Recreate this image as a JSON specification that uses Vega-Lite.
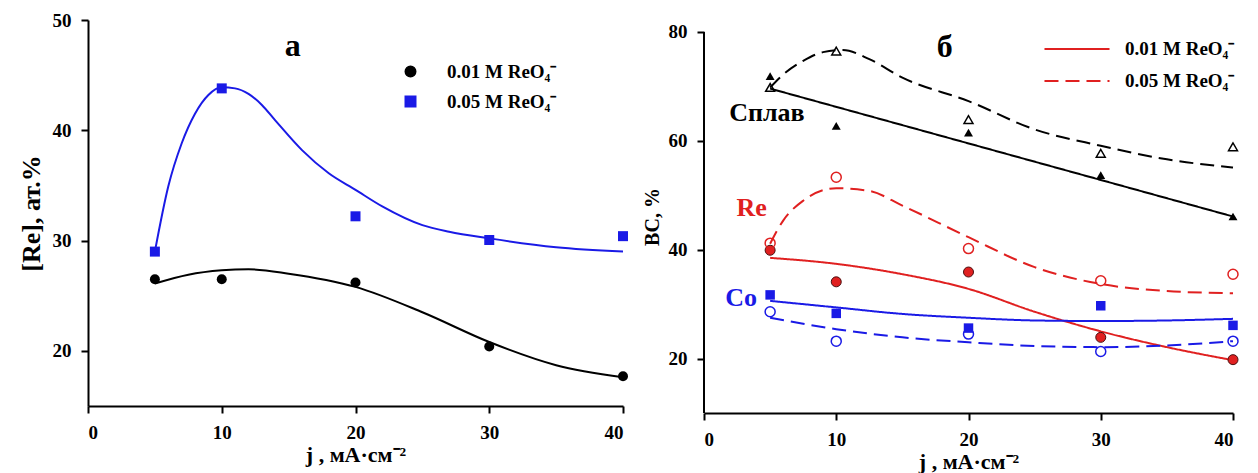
{
  "$schema": "https://vega.github.io/schema/vega-lite/v6.json",
  "background": "white",
  "padding": {"left": 18, "top": 11, "right": 5, "bottom": 5},
  "datasets": {
    "leftPts": [
      {"j": 5, "v": 26.5, "s": "0.01 M ReO₄⁻"},
      {"j": 10, "v": 26.5, "s": "0.01 M ReO₄⁻"},
      {"j": 20, "v": 26.2, "s": "0.01 M ReO₄⁻"},
      {"j": 30, "v": 20.4, "s": "0.01 M ReO₄⁻"},
      {"j": 40, "v": 17.7, "s": "0.01 M ReO₄⁻"},
      {"j": 5, "v": 29.0, "s": "0.05 M ReO₄⁻"},
      {"j": 10, "v": 43.8, "s": "0.05 M ReO₄⁻"},
      {"j": 20, "v": 32.2, "s": "0.05 M ReO₄⁻"},
      {"j": 30, "v": 30.05, "s": "0.05 M ReO₄⁻"},
      {"j": 40, "v": 30.4, "s": "0.05 M ReO₄⁻"}
    ],
    "leftFit": [
      {"j": 5, "v": 26.1, "s": "0.01 M ReO₄⁻"},
      {"j": 7.5, "v": 26.9, "s": "0.01 M ReO₄⁻"},
      {"j": 10, "v": 27.3, "s": "0.01 M ReO₄⁻"},
      {"j": 12, "v": 27.4, "s": "0.01 M ReO₄⁻"},
      {"j": 15, "v": 27.0, "s": "0.01 M ReO₄⁻"},
      {"j": 20, "v": 25.8, "s": "0.01 M ReO₄⁻"},
      {"j": 25, "v": 23.5, "s": "0.01 M ReO₄⁻"},
      {"j": 30, "v": 20.8, "s": "0.01 M ReO₄⁻"},
      {"j": 35, "v": 18.7, "s": "0.01 M ReO₄⁻"},
      {"j": 40, "v": 17.6, "s": "0.01 M ReO₄⁻"},
      {"j": 5, "v": 29.0, "s": "0.05 M ReO₄⁻"},
      {"j": 6, "v": 34.9, "s": "0.05 M ReO₄⁻"},
      {"j": 7, "v": 38.8, "s": "0.05 M ReO₄⁻"},
      {"j": 8, "v": 41.5, "s": "0.05 M ReO₄⁻"},
      {"j": 9, "v": 43.2, "s": "0.05 M ReO₄⁻"},
      {"j": 10, "v": 43.9, "s": "0.05 M ReO₄⁻"},
      {"j": 11, "v": 43.8, "s": "0.05 M ReO₄⁻"},
      {"j": 12, "v": 43.3, "s": "0.05 M ReO₄⁻"},
      {"j": 13, "v": 42.3, "s": "0.05 M ReO₄⁻"},
      {"j": 14, "v": 40.9, "s": "0.05 M ReO₄⁻"},
      {"j": 16, "v": 38.2, "s": "0.05 M ReO₄⁻"},
      {"j": 18, "v": 36.1, "s": "0.05 M ReO₄⁻"},
      {"j": 20, "v": 34.6, "s": "0.05 M ReO₄⁻"},
      {"j": 22, "v": 33.1, "s": "0.05 M ReO₄⁻"},
      {"j": 25, "v": 31.4, "s": "0.05 M ReO₄⁻"},
      {"j": 27, "v": 30.8, "s": "0.05 M ReO₄⁻"},
      {"j": 30, "v": 30.2, "s": "0.05 M ReO₄⁻"},
      {"j": 35, "v": 29.4, "s": "0.05 M ReO₄⁻"},
      {"j": 40, "v": 29.0, "s": "0.05 M ReO₄⁻"}
    ],
    "rightPts": [
      {"j": 5, "v": 71.9, "el": "Сплав", "c": "0.01 M ReO₄⁻"},
      {"j": 10, "v": 62.75, "el": "Сплав", "c": "0.01 M ReO₄⁻"},
      {"j": 20, "v": 61.5, "el": "Сплав", "c": "0.01 M ReO₄⁻"},
      {"j": 30, "v": 53.7, "el": "Сплав", "c": "0.01 M ReO₄⁻"},
      {"j": 40, "v": 46.1, "el": "Сплав", "c": "0.01 M ReO₄⁻"},
      {"j": 5, "v": 69.8, "el": "Сплав", "c": "0.05 M ReO₄⁻"},
      {"j": 10, "v": 76.5, "el": "Сплав", "c": "0.05 M ReO₄⁻"},
      {"j": 20, "v": 63.9, "el": "Сплав", "c": "0.05 M ReO₄⁻"},
      {"j": 30, "v": 57.7, "el": "Сплав", "c": "0.05 M ReO₄⁻"},
      {"j": 40, "v": 58.9, "el": "Сплав", "c": "0.05 M ReO₄⁻"},
      {"j": 5, "v": 39.9, "el": "Re", "c": "0.01 M ReO₄⁻"},
      {"j": 10, "v": 34.1, "el": "Re", "c": "0.01 M ReO₄⁻"},
      {"j": 20, "v": 35.9, "el": "Re", "c": "0.01 M ReO₄⁻"},
      {"j": 30, "v": 23.9, "el": "Re", "c": "0.01 M ReO₄⁻"},
      {"j": 40, "v": 19.8, "el": "Re", "c": "0.01 M ReO₄⁻"},
      {"j": 5, "v": 41.2, "el": "Re", "c": "0.05 M ReO₄⁻"},
      {"j": 10, "v": 53.3, "el": "Re", "c": "0.05 M ReO₄⁻"},
      {"j": 20, "v": 40.2, "el": "Re", "c": "0.05 M ReO₄⁻"},
      {"j": 30, "v": 34.3, "el": "Re", "c": "0.05 M ReO₄⁻"},
      {"j": 40, "v": 35.5, "el": "Re", "c": "0.05 M ReO₄⁻"},
      {"j": 5, "v": 31.7, "el": "Co", "c": "0.01 M ReO₄⁻"},
      {"j": 10, "v": 28.3, "el": "Co", "c": "0.01 M ReO₄⁻"},
      {"j": 20, "v": 25.6, "el": "Co", "c": "0.01 M ReO₄⁻"},
      {"j": 30, "v": 29.7, "el": "Co", "c": "0.01 M ReO₄⁻"},
      {"j": 40, "v": 26.1, "el": "Co", "c": "0.01 M ReO₄⁻"},
      {"j": 5, "v": 28.6, "el": "Co", "c": "0.05 M ReO₄⁻"},
      {"j": 10, "v": 23.2, "el": "Co", "c": "0.05 M ReO₄⁻"},
      {"j": 20, "v": 24.5, "el": "Co", "c": "0.05 M ReO₄⁻"},
      {"j": 30, "v": 21.3, "el": "Co", "c": "0.05 M ReO₄⁻"},
      {"j": 40, "v": 23.2, "el": "Co", "c": "0.05 M ReO₄⁻"}
    ],
    "rightFit": [
      {"j": 5, "v": 69.6, "el": "Сплав", "c": "0.01 M ReO₄⁻"},
      {"j": 40, "v": 46.1, "el": "Сплав", "c": "0.01 M ReO₄⁻"},
      {"j": 5, "v": 69.8, "el": "Сплав", "c": "0.05 M ReO₄⁻"},
      {"j": 6, "v": 72.2, "el": "Сплав", "c": "0.05 M ReO₄⁻"},
      {"j": 7.5, "v": 74.7, "el": "Сплав", "c": "0.05 M ReO₄⁻"},
      {"j": 9, "v": 76.3, "el": "Сплав", "c": "0.05 M ReO₄⁻"},
      {"j": 10.5, "v": 76.7, "el": "Сплав", "c": "0.05 M ReO₄⁻"},
      {"j": 12.5, "v": 75.0, "el": "Сплав", "c": "0.05 M ReO₄⁻"},
      {"j": 15, "v": 71.6, "el": "Сплав", "c": "0.05 M ReO₄⁻"},
      {"j": 20, "v": 67.3, "el": "Сплав", "c": "0.05 M ReO₄⁻"},
      {"j": 25, "v": 62.1, "el": "Сплав", "c": "0.05 M ReO₄⁻"},
      {"j": 30, "v": 59.1, "el": "Сплав", "c": "0.05 M ReO₄⁻"},
      {"j": 35, "v": 56.6, "el": "Сплав", "c": "0.05 M ReO₄⁻"},
      {"j": 40, "v": 55.1, "el": "Сплав", "c": "0.05 M ReO₄⁻"},
      {"j": 5, "v": 38.5, "el": "Re", "c": "0.01 M ReO₄⁻"},
      {"j": 10, "v": 37.4, "el": "Re", "c": "0.01 M ReO₄⁻"},
      {"j": 15, "v": 35.5, "el": "Re", "c": "0.01 M ReO₄⁻"},
      {"j": 20, "v": 32.8, "el": "Re", "c": "0.01 M ReO₄⁻"},
      {"j": 25, "v": 28.6, "el": "Re", "c": "0.01 M ReO₄⁻"},
      {"j": 30, "v": 25.0, "el": "Re", "c": "0.01 M ReO₄⁻"},
      {"j": 35, "v": 22.1, "el": "Re", "c": "0.01 M ReO₄⁻"},
      {"j": 40, "v": 19.7, "el": "Re", "c": "0.01 M ReO₄⁻"},
      {"j": 5, "v": 41.1, "el": "Re", "c": "0.05 M ReO₄⁻"},
      {"j": 6, "v": 45.4, "el": "Re", "c": "0.05 M ReO₄⁻"},
      {"j": 7.5, "v": 49.0, "el": "Re", "c": "0.05 M ReO₄⁻"},
      {"j": 10, "v": 51.3, "el": "Re", "c": "0.05 M ReO₄⁻"},
      {"j": 12.5, "v": 50.8, "el": "Re", "c": "0.05 M ReO₄⁻"},
      {"j": 15, "v": 48.1, "el": "Re", "c": "0.05 M ReO₄⁻"},
      {"j": 20, "v": 42.3, "el": "Re", "c": "0.05 M ReO₄⁻"},
      {"j": 25, "v": 36.8, "el": "Re", "c": "0.05 M ReO₄⁻"},
      {"j": 30, "v": 33.7, "el": "Re", "c": "0.05 M ReO₄⁻"},
      {"j": 35, "v": 32.4, "el": "Re", "c": "0.05 M ReO₄⁻"},
      {"j": 40, "v": 32.0, "el": "Re", "c": "0.05 M ReO₄⁻"},
      {"j": 5, "v": 30.6, "el": "Co", "c": "0.01 M ReO₄⁻"},
      {"j": 10, "v": 29.4, "el": "Co", "c": "0.01 M ReO₄⁻"},
      {"j": 15, "v": 28.2, "el": "Co", "c": "0.01 M ReO₄⁻"},
      {"j": 20, "v": 27.5, "el": "Co", "c": "0.01 M ReO₄⁻"},
      {"j": 25, "v": 27.0, "el": "Co", "c": "0.01 M ReO₄⁻"},
      {"j": 30, "v": 26.9, "el": "Co", "c": "0.01 M ReO₄⁻"},
      {"j": 35, "v": 27.0, "el": "Co", "c": "0.01 M ReO₄⁻"},
      {"j": 40, "v": 27.3, "el": "Co", "c": "0.01 M ReO₄⁻"},
      {"j": 5, "v": 27.5, "el": "Co", "c": "0.05 M ReO₄⁻"},
      {"j": 10, "v": 25.4, "el": "Co", "c": "0.05 M ReO₄⁻"},
      {"j": 15, "v": 23.9, "el": "Co", "c": "0.05 M ReO₄⁻"},
      {"j": 20, "v": 23.0, "el": "Co", "c": "0.05 M ReO₄⁻"},
      {"j": 25, "v": 22.3, "el": "Co", "c": "0.05 M ReO₄⁻"},
      {"j": 30, "v": 22.1, "el": "Co", "c": "0.05 M ReO₄⁻"},
      {"j": 35, "v": 22.4, "el": "Co", "c": "0.05 M ReO₄⁻"},
      {"j": 40, "v": 23.2, "el": "Co", "c": "0.05 M ReO₄⁻"}
    ]
  },
  "bounds": "flush",
  "spacing": 81,
  "resolve": {
    "scale": {"color": "independent", "shape": "independent", "strokeDash": "independent"},
    "legend": {"color": "independent", "shape": "independent", "strokeDash": "independent"}
  },
  "hconcat": [
    {
      "width": 535,
      "height": 386,
      "layer": [
        {
          "data": {"name": "leftFit"},
          "mark": {"type": "line", "interpolate": "monotone", "strokeWidth": 2},
          "encoding": {
            "x": {
              "field": "j", "type": "quantitative",
              "scale": {"domain": [0, 40], "nice": false},
              "axis": {"values": [0, 10, 20, 30, 40], "title": "j , мА·см⁻²", "titleFontSize": 22, "labelPadding": 10, "titlePadding": 2}
            },
            "y": {
              "field": "v", "type": "quantitative",
              "scale": {"domain": [15, 50], "nice": false},
              "axis": {"values": [20, 30, 40, 50], "title": "[Re], ат.%", "titleFontSize": 26, "labelPadding": 10, "titlePadding": 8}
            },
            "color": {
              "field": "s", "type": "nominal",
              "scale": {"domain": ["0.01 M ReO₄⁻", "0.05 M ReO₄⁻"], "range": ["#000000", "#1a1ae6"]}
            }
          }
        },
        {
          "data": {"name": "leftPts"},
          "mark": {"type": "point", "filled": true, "opacity": 1, "size": 100},
          "encoding": {
            "x": {"field": "j", "type": "quantitative"},
            "y": {"field": "v", "type": "quantitative"},
            "color": {
              "field": "s", "type": "nominal",
              "legend": {"orient": "none", "legendX": 313, "legendY": 42, "title": null, "padding": 0, "rowPadding": 10, "labelOffset": 27, "symbolSize": 110, "labelFontSize": 19}
            },
            "shape": {
              "field": "s", "type": "nominal",
              "scale": {"domain": ["0.01 M ReO₄⁻", "0.05 M ReO₄⁻"], "range": ["circle", "square"]},
              "legend": {"orient": "none", "legendX": 313, "legendY": 42, "title": null, "padding": 0, "rowPadding": 10, "labelOffset": 27, "symbolSize": 110, "labelFontSize": 19}
            }
          }
        },
        {
          "data": {"values": [{}]},
          "mark": {"type": "text", "text": "а", "fontSize": 32, "fontWeight": "bold", "font": "Liberation Serif", "color": "#000000"},
          "encoding": {"x": {"datum": 15.3}, "y": {"datum": 47.6}}
        }
      ]
    },
    {
      "width": 529,
      "height": 393,
      "layer": [
        {
          "data": {"values": [{}]},
          "mark": {"type": "rule", "strokeWidth": 2, "color": "#000000"},
          "encoding": {
            "x": {"datum": 0, "type": "quantitative", "scale": {"domain": [0, 40], "nice": false}},
            "y": {"datum": 10, "type": "quantitative", "scale": {"domain": [10, 82.2], "nice": false}},
            "y2": {"datum": 80}
          }
        },
        {
          "data": {"name": "rightFit"},
          "mark": {"type": "line", "interpolate": "monotone", "strokeWidth": 2},
          "encoding": {
            "x": {
              "field": "j", "type": "quantitative",
              "axis": {"values": [0, 10, 20, 30, 40], "title": "j , мА·см⁻²", "titleFontSize": 22, "labelPadding": 10, "titlePadding": 2}
            },
            "y": {
              "field": "v", "type": "quantitative",
              "axis": {"values": [20, 40, 60, 80], "domain": false, "title": "ВС, %", "titleFontSize": 20, "labelPadding": 10, "titlePadding": 6}
            },
            "color": {
              "field": "el", "type": "nominal",
              "scale": {"domain": ["Сплав", "Re", "Co"], "range": ["#000000", "#e02020", "#1a1ae6"]},
              "legend": null
            },
            "strokeDash": {
              "field": "c", "type": "nominal",
              "scale": {"domain": ["0.01 M ReO₄⁻", "0.05 M ReO₄⁻"], "range": [[1, 0], [14, 7]]},
              "legend": {"orient": "none", "legendX": 361, "legendY": 17, "title": null, "padding": 0, "rowPadding": 10, "labelOffset": 36, "symbolType": "M-3,0H3", "symbolSize": 470, "symbolStrokeColor": "#e02020", "symbolFillColor": "transparent", "symbolStrokeWidth": 2, "labelFontSize": 19}
            }
          }
        },
        {
          "data": {"name": "rightPts"},
          "transform": [{"filter": "datum.el === 'Сплав' && datum.c === '0.01 M ReO₄⁻'"}],
          "mark": {"type": "point", "shape": "triangle-up", "filled": true, "opacity": 1, "size": 80, "color": "#000000"},
          "encoding": {"x": {"field": "j", "type": "quantitative"}, "y": {"field": "v", "type": "quantitative"}}
        },
        {
          "data": {"name": "rightPts"},
          "transform": [{"filter": "datum.el === 'Сплав' && datum.c === '0.05 M ReO₄⁻'"}],
          "mark": {"type": "point", "shape": "triangle-up", "filled": false, "opacity": 1, "size": 80, "strokeWidth": 1.5, "color": "#000000"},
          "encoding": {"x": {"field": "j", "type": "quantitative"}, "y": {"field": "v", "type": "quantitative"}}
        },
        {
          "data": {"name": "rightPts"},
          "transform": [{"filter": "datum.el === 'Re' && datum.c === '0.01 M ReO₄⁻'"}],
          "mark": {"type": "point", "shape": "circle", "filled": true, "opacity": 1, "size": 100, "fill": "#e02020", "stroke": "#4a1010", "strokeWidth": 1},
          "encoding": {"x": {"field": "j", "type": "quantitative"}, "y": {"field": "v", "type": "quantitative"}}
        },
        {
          "data": {"name": "rightPts"},
          "transform": [{"filter": "datum.el === 'Re' && datum.c === '0.05 M ReO₄⁻'"}],
          "mark": {"type": "point", "shape": "circle", "filled": false, "opacity": 1, "size": 100, "strokeWidth": 1.5, "color": "#e02020"},
          "encoding": {"x": {"field": "j", "type": "quantitative"}, "y": {"field": "v", "type": "quantitative"}}
        },
        {
          "data": {"name": "rightPts"},
          "transform": [{"filter": "datum.el === 'Co' && datum.c === '0.01 M ReO₄⁻'"}],
          "mark": {"type": "point", "shape": "square", "filled": true, "opacity": 1, "size": 90, "color": "#1a1ae6"},
          "encoding": {"x": {"field": "j", "type": "quantitative"}, "y": {"field": "v", "type": "quantitative"}}
        },
        {
          "data": {"name": "rightPts"},
          "transform": [{"filter": "datum.el === 'Co' && datum.c === '0.05 M ReO₄⁻'"}],
          "mark": {"type": "point", "shape": "circle", "filled": false, "opacity": 1, "size": 100, "strokeWidth": 1.5, "color": "#1a1ae6"},
          "encoding": {"x": {"field": "j", "type": "quantitative"}, "y": {"field": "v", "type": "quantitative"}}
        },
        {
          "data": {"values": [{}]},
          "mark": {"type": "text", "text": "б", "fontSize": 32, "fontWeight": "bold", "font": "Liberation Serif", "color": "#000000"},
          "encoding": {"x": {"datum": 18.2}, "y": {"datum": 77.2}}
        },
        {
          "data": {"values": [{}]},
          "mark": {"type": "text", "text": "Сплав", "fontSize": 26, "fontWeight": "bold", "font": "Liberation Serif", "color": "#000000"},
          "encoding": {"x": {"datum": 4.76}, "y": {"datum": 65.1}}
        },
        {
          "data": {"values": [{}]},
          "mark": {"type": "text", "text": "Re", "fontSize": 26, "fontWeight": "bold", "font": "Liberation Serif", "color": "#e02020"},
          "encoding": {"x": {"datum": 3.6}, "y": {"datum": 47.7}}
        },
        {
          "data": {"values": [{}]},
          "mark": {"type": "text", "text": "Co", "fontSize": 26, "fontWeight": "bold", "font": "Liberation Serif", "color": "#1a1ae6"},
          "encoding": {"x": {"datum": 2.8}, "y": {"datum": 31.1}}
        }
      ]
    }
  ],
  "config": {
    "view": {"stroke": null},
    "font": "Liberation Serif",
    "axis": {
      "grid": false,
      "domainColor": "#000000",
      "domainWidth": 2,
      "tickColor": "#000000",
      "tickWidth": 2,
      "tickSize": 7,
      "labelFont": "Liberation Serif",
      "labelFontWeight": "bold",
      "labelFontSize": 19,
      "labelColor": "#000000",
      "titleFont": "Liberation Serif",
      "titleFontWeight": "bold",
      "titleColor": "#000000"
    },
    "legend": {
      "labelFont": "Liberation Serif",
      "labelFontWeight": "bold",
      "labelColor": "#000000",
      "labelLimit": 400
    }
  }
}
